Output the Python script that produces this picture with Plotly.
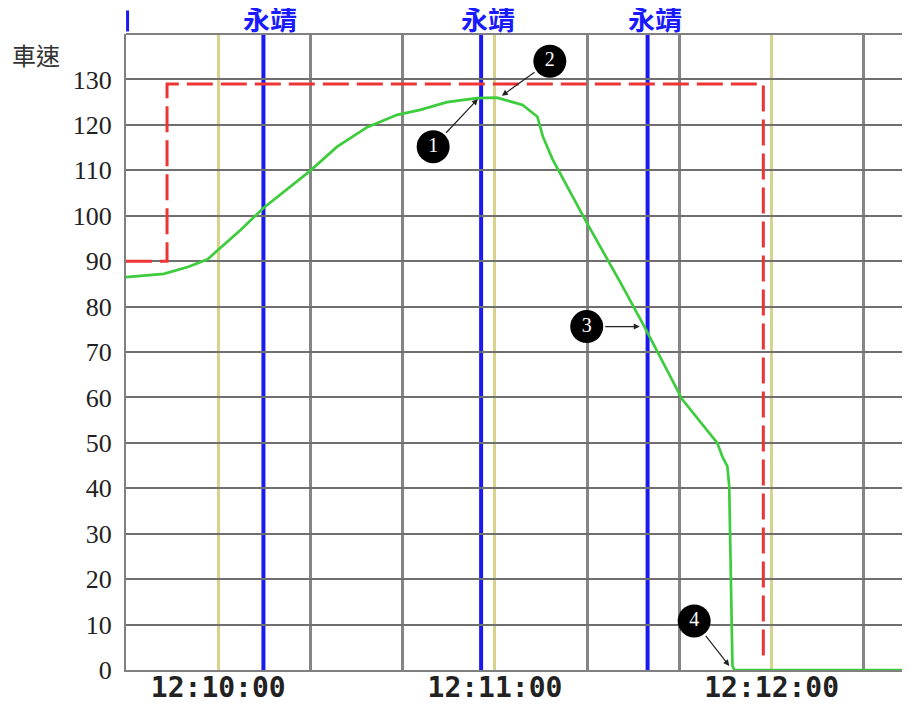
import plotly.graph_objects as go

DAY = "2024-01-01 "

# speed (green)
speed_t = ["12:09:40.0", "12:09:48.2", "12:09:53.4", "12:09:57.7", "12:10:00.0", "12:10:04.9",
           "12:10:09.8", "12:10:19.6", "12:10:25.8", "12:10:32.3", "12:10:38.8", "12:10:43.8",
           "12:10:49.6", "12:10:56.1", "12:11:00.4", "12:11:06.0", "12:11:09.2", "12:11:10.4",
           "12:11:12.5", "12:11:19.9", "12:11:27.7", "12:11:32.4", "12:11:40.6", "12:11:48.2",
           "12:11:49.3", "12:11:50.4", "12:11:50.8", "12:11:51.5", "12:11:51.9", "12:12:30.0"]
speed_v = [86.5, 87.2, 88.7, 90.4, 92.5, 96.9,
           101.7, 109.6, 115.2, 119.5, 122.2, 123.3,
           125.0, 125.9, 126.0, 124.4, 121.8, 117.4,
           112.4, 98.5, 84.4, 75.6, 59.6, 50.0,
           47.0, 44.8, 40.4, 1.0, 0.0, 0.0]

# speed limit (red dashed)
limit_t = ["12:09:40.0", "12:09:48.9", "12:09:48.9", "12:11:58.2", "12:11:58.2"]
limit_v = [90, 90, 129, 129, 2]

# station marks (blue)
station_t = ["12:10:09.8", "12:10:57.0", "12:11:33.1"]
station_label = "永靖"

# markers (numbered circles): circle position and arrow tip
mark_labels = ["1", "2", "3", "4"]
mark_t = ["12:10:46.6", "12:11:11.9", "12:11:19.9", "12:11:43.2"]
mark_v = [115.2, 134.0, 75.6, 10.8]
tip_t = ["12:10:56.3", "12:11:01.5", "12:11:31.4", "12:11:50.8"]
tip_v = [125.7, 126.4, 75.6, 0.9]

x_ticks = ["12:10:00", "12:11:00", "12:12:00"]
y_ticks = list(range(0, 140, 10))
x_range = ["12:09:40", "12:12:30"]
y_range = [0, 140]

d = lambda s: DAY + s

fig = go.Figure()

fig.add_trace(go.Scatter(x=[d(t) for t in limit_t], y=limit_v, mode="lines",
                         line=dict(color="#ee3535", width=3, dash="26px,8px"),
                         hoverinfo="skip", showlegend=False))
fig.add_trace(go.Scatter(x=[d(t) for t in speed_t], y=speed_v, mode="lines",
                         line=dict(color="#3ccc3c", width=2.7),
                         hoverinfo="skip", showlegend=False))
fig.add_trace(go.Scatter(x=[d(t) for t in mark_t], y=mark_v, mode="markers+text",
                         marker=dict(color="black", size=33),
                         text=mark_labels, textposition="middle center",
                         textfont=dict(color="white", size=20, family="Liberation Serif"),
                         cliponaxis=False, hoverinfo="skip", showlegend=False))

shapes = []
for t in station_t:
    shapes.append(dict(type="line", xref="x", yref="paper", x0=d(t), x1=d(t), y0=0, y1=1,
                       line=dict(color="#1a1af0", width=4), layer="below"))
# clipped label fragment at left edge
shapes.append(dict(type="line", xref="paper", yref="paper", x0=0.002, x1=0.002, y0=1.004, y1=1.037,
                   line=dict(color="#1a1af0", width=3)))

annotations = []
for t in station_t:
    annotations.append(dict(x=d(t), y=1.0, xref="x", yref="paper", text=station_label,
                            showarrow=False, xanchor="left", yanchor="bottom", xshift=-22, yshift=-6,
                            font=dict(color="#1a1aff", size=27, family="Noto Sans CJK TC", weight="bold")))
for i in range(len(mark_labels)):
    annotations.append(dict(x=d(tip_t[i]), y=tip_v[i], xref="x", yref="y",
                            ax=d(mark_t[i]), ay=mark_v[i], axref="x", ayref="y",
                            text="", showarrow=True, arrowhead=2, arrowsize=1, arrowwidth=1.2,
                            arrowcolor="#222", startstandoff=17))
annotations.append(dict(x=-0.148, y=0.967, xref="paper", yref="paper", text="車速",
                        showarrow=False, xanchor="left", yanchor="middle",
                        font=dict(color="#333", size=24, family="Noto Sans CJK TC")))
shapes.append(dict(type="line", xref="paper", yref="paper", x0=0, x1=1, y0=1, y1=1,
                   line=dict(color="#808080", width=2)))

fig.update_layout(
    width=902, height=696,
    margin=dict(l=118, r=0, t=26, b=32),
    paper_bgcolor="white", plot_bgcolor="white",
    shapes=shapes, annotations=annotations,
    xaxis=dict(type="date", range=[d(x_range[0]), d(x_range[1])],
               tickvals=[d(t) for t in x_ticks], ticktext=x_ticks,
               showgrid=True, gridcolor="#d9d28c", gridwidth=3,
               minor=dict(dtick=20000, showgrid=True, gridcolor="#858585", gridwidth=3),
               showline=True, linecolor="#808080", linewidth=2,
               ticks="", zeroline=False, ticklabelstandoff=-9,
               tickfont=dict(family="DejaVu Sans Mono", size=28, color="#222", weight="bold")),
    yaxis=dict(range=y_range, tickvals=y_ticks,
               showgrid=True, gridcolor="#6f6f6f", gridwidth=2,
               showline=True, linecolor="#808080", linewidth=2,
               ticks="", zeroline=False, ticklabelstandoff=7,
               tickfont=dict(family="Liberation Serif", size=26, color="#222")),
)

fig.write_html("out.html")
